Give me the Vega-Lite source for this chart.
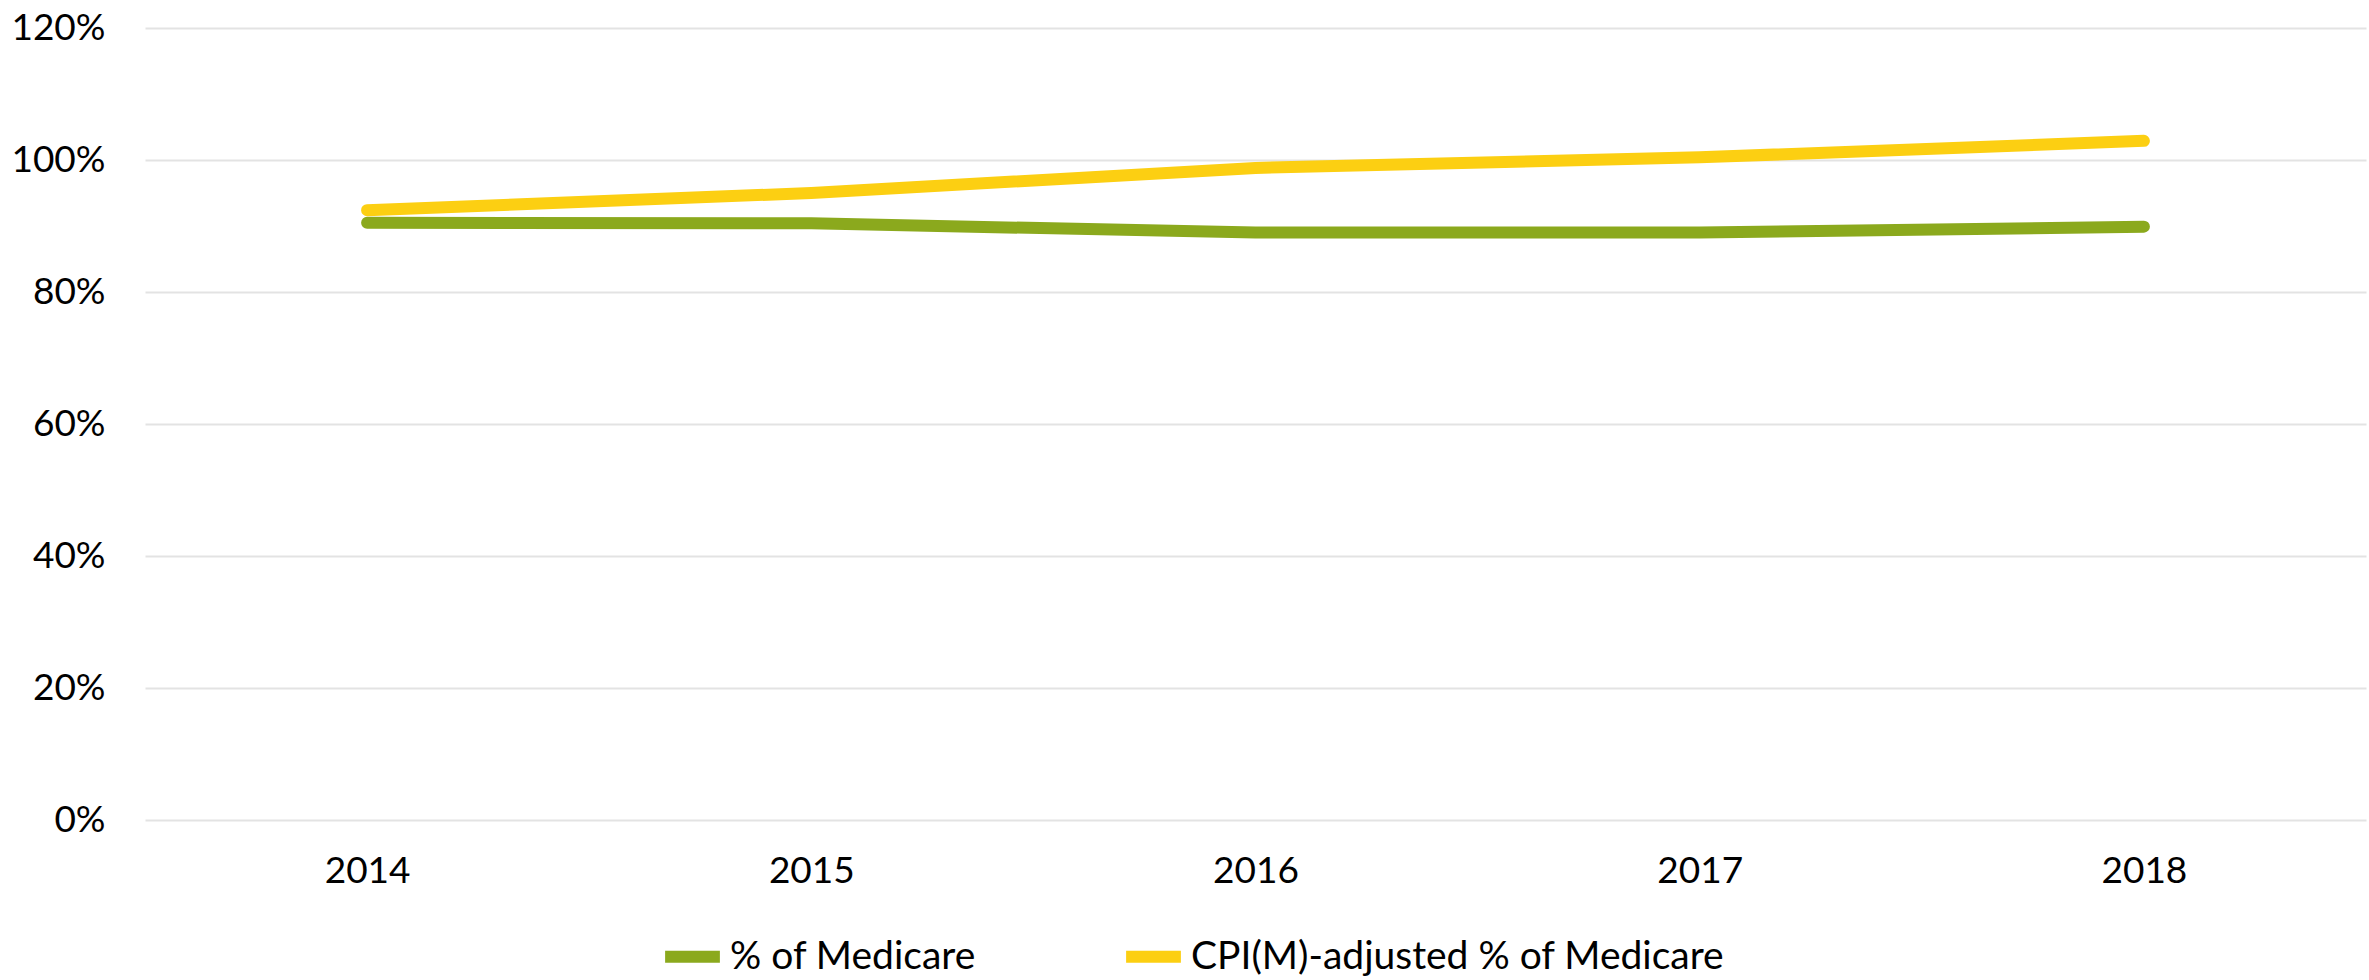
{
  "$schema": "https://vega.github.io/schema/vega-lite/v6.json",
  "width": 2221,
  "height": 792,
  "autosize": "none",
  "padding": {"left": 145, "top": 28, "right": 3, "bottom": 160},
  "background": "white",
  "config": {
    "view": {"stroke": null},
    "font": "Lato",
    "axis": {"labelFont": "Lato", "labelFontSize": 37, "labelColor": "#000000"}
  },
  "data": {
    "values": [
      {"year": "2014", "series": "% of Medicare", "value": 0.905},
      {"year": "2015", "series": "% of Medicare", "value": 0.904},
      {"year": "2016", "series": "% of Medicare", "value": 0.890},
      {"year": "2017", "series": "% of Medicare", "value": 0.890},
      {"year": "2018", "series": "% of Medicare", "value": 0.899},
      {"year": "2014", "series": "CPI(M)-adjusted % of Medicare", "value": 0.924},
      {"year": "2015", "series": "CPI(M)-adjusted % of Medicare", "value": 0.950},
      {"year": "2016", "series": "CPI(M)-adjusted % of Medicare", "value": 0.988},
      {"year": "2017", "series": "CPI(M)-adjusted % of Medicare", "value": 1.004},
      {"year": "2018", "series": "CPI(M)-adjusted % of Medicare", "value": 1.029}
    ]
  },
  "mark": {"type": "line", "strokeWidth": 12, "strokeCap": "round", "strokeJoin": "round"},
  "encoding": {
    "x": {
      "field": "year", "type": "ordinal", "title": null,
      "scale": {"type": "point", "padding": 0.5},
      "axis": {"domain": false, "ticks": false, "labelAngle": 0, "labelPadding": 33, "grid": false}
    },
    "y": {
      "field": "value", "type": "quantitative", "title": null,
      "scale": {"domain": [0, 1.2], "nice": false},
      "axis": {
        "values": [0, 0.2, 0.4, 0.6, 0.8, 1.0, 1.2],
        "format": ".0%", "domain": false, "ticks": false, "labelPadding": 40,
        "grid": true, "gridColor": "#E3E3E3", "gridWidth": 2
      }
    },
    "color": {
      "field": "series", "type": "nominal", "title": null,
      "scale": {"domain": ["% of Medicare", "CPI(M)-adjusted % of Medicare"], "range": ["#8BA91D", "#FCCF12"]},
      "legend": {
        "orient": "none", "legendX": 514, "legendY": 895, "direction": "horizontal",
        "symbolType": "stroke", "symbolSize": 3000, "symbolStrokeWidth": 12,
        "labelFontSize": 39, "labelFont": "Lato", "labelColor": "#000000", "labelLimit": 1000,
        "labelOffset": 4, "columnPadding": 126
      }
    }
  }
}
